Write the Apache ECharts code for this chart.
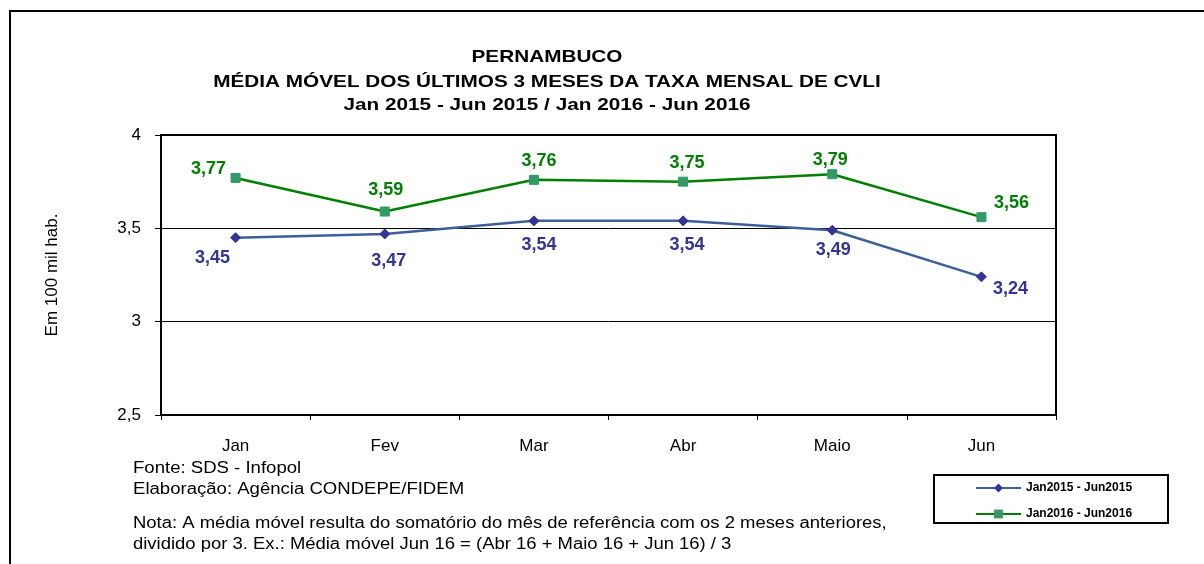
<!DOCTYPE html>
<html><head><meta charset="utf-8">
<script src="https://cdn.jsdelivr.net/npm/echarts@6/dist/echarts.min.js"></script>
<style>html,body{margin:0;padding:0;background:#fff}#c{width:1204px;height:564px}</style>
</head><body><div id="c"></div>
<script>
const categories = ['Jan','Fev','Mar','Abr','Maio','Jun'];
const series2015 = [3.45, 3.47, 3.54, 3.54, 3.49, 3.24];
const series2016 = [3.77, 3.59, 3.76, 3.75, 3.79, 3.56];
const seriesNames = ['Jan2015 - Jun2015', 'Jan2016 - Jun2016'];
const yTicks = { min: 2.5, max: 4, interval: 0.5 };

const off2015 = [[-23,20],[4,27],[5,24],[4,24],[1,20],[29,12]];
const off2016 = [[-27,-9],[1,-22],[5,-19],[4,-19],[-2,-14],[30,-14]];

const fmt = v => String(v).replace('.', ',');
function mk(vals, offs){
  return vals.map((v,i)=>({value:v, label:{offset:offs[i]}}));
}
const F = 'Liberation Sans, Arial, sans-serif';
const chart = echarts.init(document.getElementById('c'), null, {renderer:'canvas'});
chart.setOption({
  animation:false,
  textStyle:{fontFamily:F},
  grid:{left:161, top:135, right:148, bottom:149, show:true, borderColor:'#000', borderWidth:2, backgroundColor:'transparent'},
  xAxis:{type:'category', data:categories, boundaryGap:true,
    axisLine:{lineStyle:{color:'#000', width:2}},
    axisTick:{show:true, length:5, lineStyle:{color:'#000', width:1}},
    axisLabel:{color:'#000', fontSize:17, margin:23, fontFamily:F}},
  yAxis:{type:'value', min:yTicks.min, max:yTicks.max, interval:yTicks.interval,
    name:'Em 100 mil hab.', nameLocation:'middle', nameGap:100, nameRotate:90,
    nameTextStyle:{color:'#000', fontSize:17, fontFamily:F},
    axisLine:{show:true, lineStyle:{color:'#000', width:2}},
    axisTick:{show:true, length:6, lineStyle:{color:'#000', width:1}},
    splitLine:{show:true, lineStyle:{color:'#000', width:1}},
    axisLabel:{color:'#000', fontSize:17, margin:20, fontFamily:F, formatter:fmt}},
  legend:{orient:'vertical', left:975, top:482, padding:0, itemWidth:45, itemHeight:11, itemGap:14,
    textStyle:{fontSize:12, fontWeight:'bold', color:'#000', fontFamily:F},
    data:seriesNames},
  series:[
    {name:seriesNames[0], type:'line', data:mk(series2015, off2015),
     symbol:'diamond', symbolSize:10,
     lineStyle:{color:'#3c5f9a', width:2.5},
     itemStyle:{color:'#333399', borderColor:'#333399'},
     label:{show:true, position:'inside', color:'#333399', fontSize:18, fontWeight:'bold', fontFamily:F, formatter:p=>fmt(p.value)}},
    {name:seriesNames[1], type:'line', data:mk(series2016, off2016),
     symbol:'rect', symbolSize:9,
     lineStyle:{color:'#008000', width:2.5},
     itemStyle:{color:'#339966', borderColor:'#339966'},
     label:{show:true, position:'inside', color:'#008000', fontSize:18, fontWeight:'bold', fontFamily:F, formatter:p=>fmt(p.value)}}
  ],
  graphic:[
    {type:'rect', shape:{x:10, y:11, width:1210, height:620}, style:{fill:'none', stroke:'#000', lineWidth:2}, silent:true},
    {type:'rect', shape:{x:934, y:475, width:234, height:48}, style:{fill:'none', stroke:'#000', lineWidth:2}, silent:true},
    {type:'text', x:547, y:57, scaleX:1.22, style:{text:'PERNAMBUCO', font:'bold 17px '+F, fill:'#000', textAlign:'center', textVerticalAlign:'middle'}},
    {type:'text', x:547, y:82, scaleX:1.22, style:{text:'MÉDIA MÓVEL DOS ÚLTIMOS 3 MESES DA TAXA MENSAL DE CVLI', font:'bold 17px '+F, fill:'#000', textAlign:'center', textVerticalAlign:'middle'}},
    {type:'text', x:547, y:105, scaleX:1.22, style:{text:'Jan 2015 - Jun 2015 / Jan 2016 - Jun 2016', font:'bold 17px '+F, fill:'#000', textAlign:'center', textVerticalAlign:'middle'}},
    {type:'text', x:133, y:469, scaleX:1.16, style:{text:'Fonte: SDS - Infopol', font:'16px '+F, fill:'#000', textVerticalAlign:'middle'}},
    {type:'text', x:133, y:490, scaleX:1.16, style:{text:'Elaboração: Agência CONDEPE/FIDEM', font:'16px '+F, fill:'#000', textVerticalAlign:'middle'}},
    {type:'text', x:133, y:524, scaleX:1.153, style:{text:'Nota: A média móvel resulta do somatório do mês de referência com os 2 meses anteriores,', font:'16px '+F, fill:'#000', textVerticalAlign:'middle'}},
    {type:'text', x:133, y:545, scaleX:1.153, style:{text:'dividido por 3. Ex.: Média móvel Jun 16 = (Abr 16 + Maio 16 + Jun 16) / 3', font:'16px '+F, fill:'#000', textVerticalAlign:'middle'}}
  ]
});
</script></body></html>
